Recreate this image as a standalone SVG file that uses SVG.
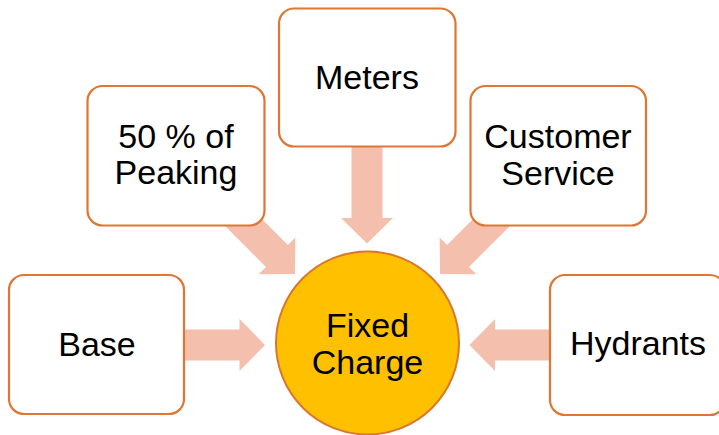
<svg xmlns="http://www.w3.org/2000/svg" xmlns:xlink="http://www.w3.org/1999/xlink" width="719" height="435" viewBox="0 0 719 435">
  <style>
    .box { fill: #FFFFFF; stroke: #DF7633; stroke-width: 2.2; }
    .hub { fill: #FFC000; stroke: #D9772F; stroke-width: 2; }
    .arrow { fill: #F4BFAC; stroke: none; }
    text { font-family: "Liberation Sans", Arial, sans-serif; font-size: 34px; fill: #000000; text-anchor: middle; }
  </style>
  <defs>
    <!-- block arrow pointing along +x, tip at the origin -->
    <path id="blockArrow" d="M -100 -15.5 L -25.5 -15.5 L -25.5 -26 L 0 0 L -25.5 26 L -25.5 15.5 L -100 15.5 Z"/>
  </defs>
  <rect width="719" height="435" fill="#FFFFFF"/>

  <g id="connectors">
    <use xlink:href="#blockArrow" class="arrow" transform="translate(265 345)"/>
    <use xlink:href="#blockArrow" class="arrow" transform="translate(295 274) rotate(45)"/>
    <use xlink:href="#blockArrow" class="arrow" transform="translate(367 243.5) rotate(90)"/>
    <use xlink:href="#blockArrow" class="arrow" transform="translate(440 274) rotate(135)"/>
    <use xlink:href="#blockArrow" class="arrow" transform="translate(469.5 345) rotate(180)"/>
  </g>

  <g id="base">
    <rect class="box" x="9" y="275" width="175" height="139" rx="15"/>
    <text x="97" y="356">Base</text>
  </g>

  <g id="peaking">
    <rect class="box" x="87.5" y="86" width="177" height="139.5" rx="15"/>
    <text x="176" y="147.5">50 % of</text>
    <text x="176" y="184">Peaking</text>
  </g>

  <g id="meters">
    <rect class="box" x="279" y="8.5" width="176.5" height="138" rx="15"/>
    <text x="367" y="89">Meters</text>
  </g>

  <g id="customer-service">
    <rect class="box" x="470.5" y="86" width="175.5" height="139.5" rx="15"/>
    <text x="558" y="148">Customer</text>
    <text x="558" y="185">Service</text>
  </g>

  <g id="hydrants">
    <rect class="box" x="550" y="275" width="175" height="140" rx="15"/>
    <text x="638" y="355">Hydrants</text>
  </g>

  <g id="fixed-charge">
    <circle class="hub" cx="367.5" cy="343" r="91.5"/>
    <text x="367.5" y="337">Fixed</text>
    <text x="367.5" y="374">Charge</text>
  </g>
</svg>
